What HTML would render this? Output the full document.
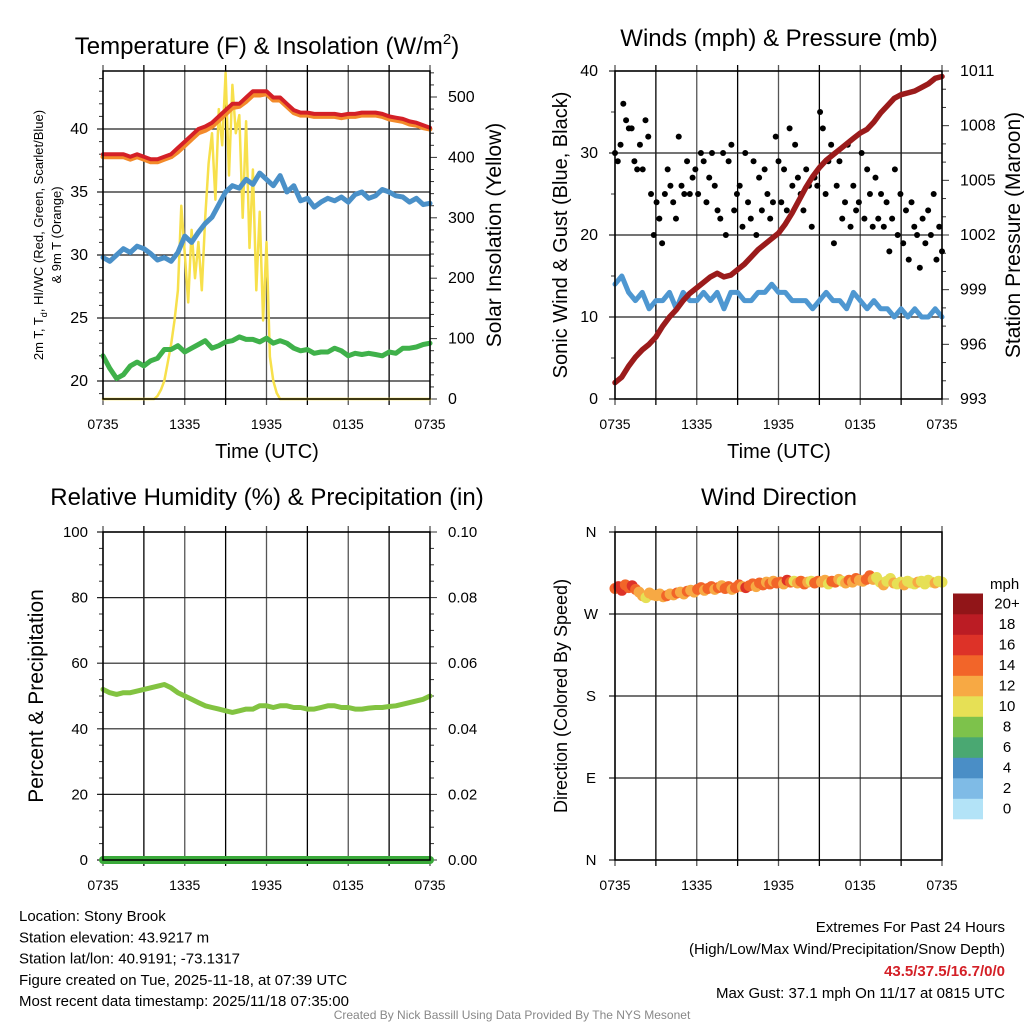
<!DOCTYPE html>
<html><head><meta charset="utf-8"><style>
body{margin:0;background:#fff;}
svg{display:block;font-family:"Liberation Sans",sans-serif;}
</style></head><body>
<svg id="c" width="1024" height="1024" viewBox="0 0 1024 1024"></svg>
<script>
const timeLabels=["0735","1335","1935","0135","0735"];
const tempRed=[38,38,38,38,37.8,38,37.8,37.6,37.6,37.8,38,38.5,39,39.5,40,40.2,40.5,41,41.5,42,42,42.5,43,43,43,42.5,42.5,42,41.5,41.3,41.3,41.2,41.2,41.2,41.2,41.1,41.2,41.2,41.3,41.3,41.3,41.2,41,40.9,40.8,40.6,40.5,40.3,40.1];
const tempOrange=[37.8,37.8,37.8,37.8,37.6,37.8,37.6,37.4,37.4,37.6,37.8,38.2,38.7,39.2,39.7,39.9,40.2,40.7,41.2,41.7,41.8,42.2,42.7,42.7,42.8,42.3,42.3,41.8,41.3,41.1,41.1,41.0,41.0,41.0,41.0,40.9,41.0,41.0,41.1,41.1,41.1,41.0,40.8,40.7,40.6,40.4,40.3,40.1,40.0];
const hiwcBlue=[29.8,29.5,30,30.5,30.2,30.7,30.5,30.1,29.6,29.8,29.5,30.2,31.5,31,31.8,32.5,33,34,35,35.5,35.3,36,35.6,36.5,36,35.5,36.3,35,35.5,34.3,34.5,33.8,34.2,34.5,34.3,34.6,34.2,34.8,35,34.5,34.7,35.2,35,34.7,34.6,34.2,34.5,34,34.1];
const dewGreen=[22,21,20.2,20.5,21.2,21.5,21.2,21.6,21.8,22.5,22.5,22.8,22.3,22.6,22.9,23.2,22.6,22.8,23.1,23.2,23.5,23.3,23.3,23.1,23.4,23.0,23.2,23.0,22.6,22.4,22.5,22.2,22.3,22.3,22.6,22.4,22.0,22.2,22.1,22.2,22.1,22.0,22.3,22.2,22.6,22.6,22.7,22.9,23.0];
const solar=[0,0,0,0,0,0,0,0,0,0,0,0,0,0,0,0,5,15,30,60,90,130,180,320,240,160,280,200,260,180,300,390,440,330,480,420,540,370,520,440,470,300,460,250,380,180,310,130,260,70,30,10,0,0,0,0,0,0,0,0,0,0,0,0,0,0,0,0,0,0,0,0,0,0,0,0,0,0,0,0,0,0,0,0,0,0,0,0,0,0,0,0,0,0,0,0,0];
const windSpeed=[14,15,13,12,13,11,12,12,13,11,13,12,12,13,12,13,11,13,13,12,12,13,13,14,13,13,12,12,12,11,12,13,12,12,11,13,12,11,12,11,11,10,11,10,11,10,10,11,10];
const gust=[30,29,31,36,34,33,33,29,28,31,28,34,32,25,20,24,22,19,25,28,26,24,22,32,26,25,29,25,27,28,25,30,29,24,27,30,26,23,22,30,20,29,31,23,25,26,21,30,24,22,29,20,27,23,28,25,22,24,32,29,24,28,23,33,26,31,27,25,23,28,26,21,27,26,35,33,25,29,31,19,26,29,22,24,31,21,26,23,24,30,22,28,25,21,27,22,25,21,24,18,22,28,20,25,19,23,17,24,21,20,16,22,19,23,20,25,17,21,18];
const pressure=[993.9,994.2,994.8,995.3,995.7,996.0,996.4,997.0,997.5,997.9,998.4,998.8,999.1,999.4,999.7,999.9,999.7,999.8,1000.1,1000.4,1000.8,1001.2,1001.5,1001.8,1002.1,1002.6,1003.2,1003.9,1004.6,1005.2,1005.7,1006.1,1006.4,1006.7,1007.0,1007.3,1007.6,1007.8,1008.2,1008.7,1009.1,1009.5,1009.7,1009.8,1009.9,1010.1,1010.3,1010.6,1010.7];
const rh=[52,51,50.5,51,51,51.5,52,52.5,53,53.5,52.5,51,50,49,48,47,46.5,46,45.5,45,45.5,46,46,47,47,46.5,47,47,46.5,46.5,46,46,46.5,47,47,46.5,46.5,46,46,46.3,46.5,46.5,46.8,47,47.5,48,48.5,49,50];
const precip=[0,0,0,0,0,0,0,0,0,0,0,0,0,0,0,0,0,0,0,0,0,0,0,0,0,0,0,0,0,0,0,0,0,0,0,0,0,0,0,0,0,0,0,0,0,0,0,0,0];
const windDir=[298,300,296,302,299,301,297,294,290,288,293,291,290,292,289,290,292,291,293,294,292,295,296,294,297,299,296,298,300,297,299,301,298,300,297,299,302,300,299,301,303,300,304,302,305,303,306,304,305,303,307,305,306,304,306,303,305,306,304,306,305,307,303,306,305,308,306,304,307,305,309,307,306,308,312,308,310,305,302,306,309,304,303,305,302,306,304,303,305,306,303,307,305,304,306,305];
const dirSpeed=[15,16,17,15,14,16,15,12,12,11,12,13,12,13,12,14,12,12,15,12,13,14,12,13,14,15,13,14,15,12,14,13,15,14,12,15,14,13,16,15,14,13,15,14,13,15,12,14,15,13,16,14,11,13,14,15,12,11,14,15,13,12,10,14,15,12,11,13,14,12,15,13,12,14,15,12,10,11,13,11,10,12,11,10,13,10,11,10,12,10,11,11,10,12,10,11];
const legendLabels=["0","2","4","6","8","10","12","14","16","18","20+"];
const legendColors=["#b3e3f7","#7fbbe6","#4a8ec6","#4aa872","#7dc24b","#e6e055","#f7a944","#f26529","#dd3228","#bb1c24","#911518"];

const NS="http://www.w3.org/2000/svg";
const svg=document.getElementById('c');
function el(tag,attrs,parent,text){const e=document.createElementNS(NS,tag);for(const k in attrs)e.setAttribute(k,attrs[k]);if(text!==undefined)e.textContent=text;(parent||svg).appendChild(e);return e;}
function lin(d0,d1,r0,r1){return v=>r0+(v-d0)/(d1-d0)*(r1-r0);}

function panel(x0,x1,y0,y1,name){
  const g=el('g',{},svg);
  
  
  for(let i=0;i<=8;i++){const x=x0+(x1-x0)*i/8;
    const l=el('line',{x1:x,x2:x,y1:y0-6,y2:y1+6,stroke:i%2?'#000':'#555','stroke-width':1.3},g);
    }
  timeLabels.forEach((t,i)=>{const x=x0+(x1-x0)*i/4;
    const tx=el('text',{x:x,y:y1+30,'font-size':14,'text-anchor':'middle'},g,t);
    });
  return g;
}
function hgrid(g,x0,x1,y,lab,lx,anchor,fs){
  const l=el('line',{x1:x0-6,x2:x1,y1:y,y2:y,stroke:'#222','stroke-width':1.2},g);
  
  if(lab!==null){const t=el('text',{x:lx,y:y+5,'font-size':fs||15,'text-anchor':anchor},g,lab);
    }
}
function rtick(g,x,y,len,lab,fs){
  el('line',{x1:x,x2:x+len,y1:y,y2:y,stroke:'#333','stroke-width':1},g);
  if(lab!==null){const t=el('text',{x:x+18,y:y+5,'font-size':fs||15},g,lab);
    }
}
function path(g,arr,xs,ys,color,w,name){
  let d='';arr.forEach((v,i)=>{d+=(i?'L':'M')+xs(i).toFixed(1)+','+ys(v).toFixed(1);});
  const p=el('path',{d:d,fill:'none',stroke:color,'stroke-width':w,'stroke-linejoin':'round','stroke-linecap':'round'},g);
  return p;
}
function title(x,y,txt,name,fs){const t=el('text',{x:x,y:y,'font-size':fs||24,'text-anchor':'middle'},svg);t.innerHTML=txt;
  return t;}
function vtitle(x,y,txt,name,fs){const t=el('text',{x:0,y:0,'font-size':fs,'text-anchor':'middle',transform:`translate(${x},${y}) rotate(-90)`},svg);t.innerHTML=txt;
  return t;}

// ---- Panel 1: Temperature
{const x0=103,x1=430,y0=71,y1=399;
 const g=panel(x0,x1,y0,y1,'temperature-panel');
 const ys=lin(20,40,381,129), yr=lin(0,500,399,97);
 [20,25,30,35,40].forEach(v=>hgrid(g,x0,x1,ys(v),String(v),88,'end',16));
 for(let v=19;v<=44;v++) if(v%5) el('line',{x1:x0-4,x2:x0,y1:ys(v),y2:ys(v),stroke:'#333'},g);
 for(let v=0;v<=540;v+=20) rtick(g,x1,yr(v),v%100?4:7,v%100?null:String(v),16);
 const xs=i=>x0+(x1-x0)*i/48, xs2=i=>x0+(x1-x0)*i/96;
 path(g,solar,xs2,yr,'#f7e04b',2.5,'solar-insolation-line');
 path(g,dewGreen,xs,ys,'#3fb14a',5,'dewpoint-line');
 path(g,hiwcBlue,xs,ys,'#4a90c8',5,'heat-index-wind-chill-line');
 path(g,tempOrange,xs,ys,'#f38a2a',5,'temp-9m-line');
 path(g,tempRed,xs,ys,'#d42027',4,'temp-2m-line');
 el('rect',{x:x0,y:y0,width:x1-x0,height:y1-y0,fill:'none',stroke:'#000','stroke-width':1.5},g);
 title(267,54,'Temperature (F) &amp; Insolation (W/m<tspan dy="-10" font-size="15">2</tspan><tspan dy="10">)</tspan>','temperature-title');
 title(267,458,'Time (UTC)','temperature-x-title',20);
 vtitle(43,235,'2m T, T<tspan dy="4" font-size="9">d</tspan><tspan dy="-4">, HI/WC (Red, Green, Scarlet/Blue)</tspan>','temperature-y-title',13);
 vtitle(61,235,'&amp; 9m T (Orange)','temperature-y-title-2',13);
 vtitle(501,235,'Solar Insolation (Yellow)','insolation-y-title',21);
}
// ---- Panel 2: Winds
{const x0=615,x1=942,y0=71,y1=399;
 const g=panel(x0,x1,y0,y1,'winds-panel');
 const ys=lin(0,40,399,71), yp=lin(993,1011,399,71);
 [0,10,20,30,40].forEach(v=>hgrid(g,x0,x1,ys(v),String(v),598,'end',16));
 for(let v=5;v<40;v+=10) el('line',{x1:x0-4,x2:x0,y1:ys(v),y2:ys(v),stroke:'#333'},g);
 for(let v=993;v<=1011;v++) rtick(g,x1,yp(v),(v-993)%3?4:7,(v-993)%3?null:String(v),16);
 const xs=i=>x0+(x1-x0)*i/48, xg=i=>x0+(x1-x0)*i/(gust.length-1);
 path(g,windSpeed,xs,ys,'#4e97d1',5,'sonic-wind-line');
 gust.forEach((v,i)=>{const c=el('circle',{cx:xg(i),cy:ys(v),r:3,fill:'#000'},g);
   });
 path(g,pressure,xs,yp,'#9b1b1b',5.5,'station-pressure-line');
 el('rect',{x:x0,y:y0,width:x1-x0,height:y1-y0,fill:'none',stroke:'#000','stroke-width':1.5},g);
 title(779,46,'Winds (mph) &amp; Pressure (mb)','winds-title');
 title(779,458,'Time (UTC)','winds-x-title',20);
 vtitle(567,235,'Sonic Wind &amp; Gust (Blue, Black)','wind-y-title',20);
 vtitle(1020,235,'Station Pressure (Maroon)','pressure-y-title',21);
}
// ---- Panel 3: RH
{const x0=103,x1=430,y0=532,y1=860;
 const g=panel(x0,x1,y0,y1,'humidity-panel');
 const ys=lin(0,100,860,532), yr=lin(0,0.1,860,532);
 [0,20,40,60,80,100].forEach(v=>hgrid(g,x0,x1,ys(v),String(v),88,'end',15));
 for(let v=0;v<=100;v+=5) if(v%20) el('line',{x1:x0-4,x2:x0,y1:ys(v),y2:ys(v),stroke:'#333'},g);
 for(let k=0;k<=20;k++){const v=k*0.005; rtick(g,x1,yr(v),k%4?4:7,k%4?null:v.toFixed(2),15);}
 const xs=i=>x0+(x1-x0)*i/48;
 path(g,rh,xs,ys,'#82c341',5,'relative-humidity-line');
 path(g,precip,xs,yr,'#3aaa3a',8,'precipitation-line');
 el('rect',{x:x0,y:y0,width:x1-x0,height:y1-y0,fill:'none',stroke:'#000','stroke-width':1.5},g);
 title(267,505,'Relative Humidity (%) &amp; Precipitation (in)','humidity-title');
 vtitle(43,696,'Percent &amp; Precipitation','humidity-y-title',21);
}
// ---- Panel 4: Wind direction
{const x0=615,x1=942,y0=532,y1=860;
 const g=panel(x0,x1,y0,y1,'wind-direction-panel');
 const ys=lin(0,360,860,532);
 [[0,'N'],[90,'E'],[180,'S'],[270,'W'],[360,'N']].forEach(([v,l])=>hgrid(g,x0,x1,ys(v),l,591,'middle',15));
 const xd=i=>x0+(x1-x0)*i/(windDir.length-1);
 const col=s=>legendColors[Math.min(10,Math.floor(s/2))];
 windDir.forEach((v,i)=>{const c=el('circle',{cx:xd(i),cy:ys(v),r:5.5,fill:col(dirSpeed[i])},g);
   });
 el('rect',{x:x0,y:y0,width:x1-x0,height:y1-y0,fill:'none',stroke:'#000','stroke-width':1.5},g);
 title(779,505,'Wind Direction','wind-direction-title');
 vtitle(567,696,'Direction (Colored By Speed)','direction-y-title',18);
 const lg=el('g',{},svg);
 el('text',{x:990,y:589,'font-size':15},lg,'mph');
 legendLabels.forEach((l,i)=>{const y=819-(i+1)*20.5;
   const r=el('rect',{x:953,y:y,width:30,height:20.8,fill:legendColors[i]},lg);
   
   el('text',{x:1007,y:y+15,'font-size':15,'text-anchor':'middle'},lg,l);});
}
// ---- Footer text
const info=["Location: Stony Brook","Station elevation: 43.9217 m","Station lat/lon: 40.9191; -73.1317","Figure created on Tue, 2025-11-18, at 07:39 UTC","Most recent data timestamp: 2025/11/18 07:35:00"];
info.forEach((t,i)=>{const e=el('text',{x:19,y:921+i*21.3,'font-size':15},svg,t);
  });
const ext=[["Extremes For Past 24 Hours",'#000','normal'],["(High/Low/Max Wind/Precipitation/Snow Depth)",'#000','normal'],["43.5/37.5/16.7/0/0",'#d42027','bold'],["Max Gust: 37.1 mph On 11/17 at 0815 UTC",'#000','normal']];
ext.forEach((a,i)=>{const e=el('text',{x:1005,y:932+i*22,'font-size':15,'text-anchor':'end',fill:a[1],'font-weight':a[2]},svg,a[0]);
  });
const cr=el('text',{x:512,y:1019,'font-size':12,'text-anchor':'middle',fill:'#888'},svg,'Created By Nick Bassill Using Data Provided By The NYS Mesonet');

</script>
</body></html>
